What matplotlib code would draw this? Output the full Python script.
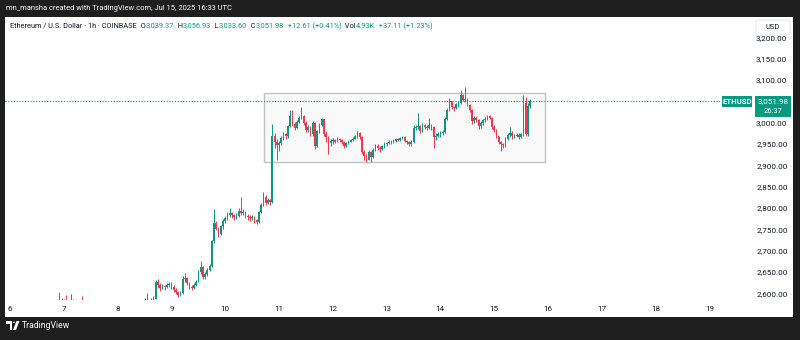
import numpy as np
import pandas as pd
import matplotlib.pyplot as plt
from matplotlib.patches import Rectangle, FancyBboxPatch, Polygon, Circle

plt.rcParams['font.family'] = ['Roboto', 'DejaVu Sans']

# --------------------------------------------------------------------------
# ETHUSD 1h candles (Coinbase), Jul 6 18:00 UTC -> Jul 15 16:00 UTC
# open of each candle = previous close
# --------------------------------------------------------------------------
start = "2025-07-06 18:00"
first_open = 2558

close = [
    2562, 2568, 2571, 2578, 2572, 2576,                                   # Jul 6
    2580, 2574, 2577, 2583, 2578, 2572, 2566, 2570, 2562, 2555, 2550, 2547,
    2552, 2545, 2540, 2546, 2550, 2544, 2536, 2530, 2534, 2526, 2520, 2528,  # Jul 7
    2534, 2540, 2545, 2550, 2548, 2553, 2558, 2555, 2560, 2564, 2568, 2566,
    2572, 2580, 2576, 2582, 2588, 2626, 2620, 2612, 2617, 2614, 2619, 2622,  # Jul 8
    2616, 2609, 2603, 2596, 2600, 2633, 2636, 2624, 2616, 2613, 2620, 2628,
    2650, 2662, 2638, 2645, 2656, 2665, 2722, 2766, 2752, 2740, 2757, 2770,  # Jul 9
    2776, 2784, 2788, 2783, 2779, 2782, 2793, 2789, 2792, 2781, 2779, 2776,
    2780, 2772, 2768, 2790, 2808, 2826, 2813, 2818, 2815, 2970, 2956, 2948,  # Jul 10
    2952, 2964, 2974, 2968, 2992, 3016, 2998, 2989, 3003, 3012, 3016, 3000,
    2982, 2991, 2973, 3000, 2946, 2980, 2996, 3008, 2973, 2966, 2952, 2957,  # Jul 11
    2960, 2956, 2962, 2959, 2955, 2946, 2952, 2956, 2960, 2963, 2968, 2976,
    2966, 2932, 2922, 2914, 2932, 2920, 2936, 2946, 2941, 2938, 2945, 2950,  # Jul 12
    2952, 2956, 2954, 2958, 2961, 2960, 2964, 2966, 2958, 2954, 2950, 2956,
    2987, 2991, 2993, 2980, 2994, 2991, 2989, 2994, 2990, 2966, 2970, 2974,  # Jul 13
    2976, 2978, 3010, 3030, 3050, 3038, 3034, 3043, 3047, 3066, 3054, 3056,
    3042, 3031, 3004, 3012, 3006, 2992, 3000, 3006, 3010, 3015, 3012, 2990,  # Jul 14
    2984, 2968, 2955, 2950, 2948, 2962, 2972, 2976, 2968, 2970, 2972, 2967,
    2973, 3047, 2973, 3039.37, 3051.98,                                    # Jul 15
]

high = [
    2570, 2575, 2580, 2586, 2603, 2590,
    2588, 2596, 2583, 2598, 2586, 2580, 2575, 2578, 2594, 2566, 2558, 2554,
    2558, 2553, 2548, 2552, 2556, 2552, 2545, 2540, 2540, 2536, 2530, 2534,
    2540, 2546, 2551, 2555, 2554, 2558, 2563, 2561, 2565, 2569, 2573, 2572,
    2590, 2602, 2584, 2590, 2595, 2631, 2634, 2624, 2622, 2621, 2624, 2627,
    2626, 2620, 2612, 2606, 2605, 2640, 2649, 2638, 2628, 2620, 2624, 2632,
    2654, 2675, 2664, 2650, 2660, 2670, 2726, 2797, 2770, 2756, 2760, 2775,
    2781, 2792, 2801, 2790, 2786, 2788, 2800, 2825, 2798, 2794, 2786, 2783,
    2785, 2782, 2775, 2794, 2812, 2837, 2830, 2824, 2822, 2998, 2975, 2962,
    2958, 2968, 2978, 2977, 2996, 3029, 3029, 3002, 3006, 3016, 3038, 3018,
    3004, 2995, 2993, 3004, 3002, 2984, 3000, 3012, 3010, 2980, 2970, 2962,
    2964, 2962, 2966, 2965, 2962, 2958, 2955, 2960, 2963, 2966, 2971, 2980,
    2978, 2968, 2936, 2928, 2936, 2934, 2940, 2950, 2950, 2945, 2948, 2954,
    2955, 2960, 2959, 2962, 2964, 2965, 2967, 2970, 2968, 2960, 2957, 2960,
    2996, 2995, 3022, 2995, 2999, 2998, 2996, 3012, 2997, 2992, 2976, 2978,
    2980, 2982, 3014, 3034, 3057, 3052, 3040, 3046, 3052, 3078, 3068, 3083,
    3058, 3045, 3033, 3016, 3015, 3008, 3004, 3010, 3014, 3019, 3018, 3014,
    2994, 2986, 2970, 2958, 2952, 2966, 2975, 2991, 2980, 2974, 2976, 2975,
    2977, 3066, 3060, 3046, 3056.93,
]

low = [
    2555, 2560, 2563, 2568, 2566, 2568,
    2570, 2568, 2569, 2574, 2570, 2564, 2560, 2562, 2558, 2550, 2544, 2541,
    2544, 2539, 2533, 2538, 2543, 2538, 2528, 2522, 2526, 2518, 2512, 2518,
    2524, 2532, 2538, 2543, 2541, 2546, 2550, 2549, 2553, 2558, 2561, 2560,
    2564, 2570, 2570, 2574, 2580, 2586, 2612, 2606, 2610, 2608, 2612, 2614,
    2610, 2604, 2598, 2592, 2593, 2598, 2628, 2620, 2610, 2608, 2611, 2618,
    2626, 2646, 2634, 2635, 2642, 2652, 2662, 2718, 2748, 2733, 2736, 2752,
    2766, 2772, 2780, 2777, 2772, 2775, 2780, 2784, 2785, 2776, 2772, 2770,
    2773, 2765, 2762, 2766, 2788, 2805, 2808, 2810, 2808, 2812, 2942, 2914,
    2934, 2948, 2960, 2962, 2964, 2990, 2993, 2983, 2987, 3000, 3008, 2996,
    2978, 2978, 2968, 2970, 2938, 2944, 2976, 2992, 2968, 2956, 2926, 2946,
    2950, 2952, 2954, 2955, 2950, 2942, 2944, 2950, 2954, 2957, 2961, 2965,
    2962, 2928, 2912, 2907, 2912, 2907, 2918, 2934, 2937, 2932, 2936, 2942,
    2946, 2950, 2950, 2952, 2955, 2957, 2958, 2961, 2955, 2950, 2946, 2945,
    2952, 2983, 2985, 2976, 2978, 2986, 2984, 2986, 2984, 2942, 2960, 2966,
    2966, 2972, 2976, 3006, 3028, 3032, 3028, 3032, 3038, 3045, 3050, 3048,
    3040, 3026, 2998, 3000, 3002, 2986, 2988, 2996, 3002, 3006, 3008, 2986,
    2978, 2964, 2950, 2933, 2940, 2944, 2960, 2966, 2962, 2964, 2966, 2962,
    2964, 2968, 2968, 2970, 3033.60,
]

assert len(close) == len(high) == len(low)

# consolidation range drawn on the chart (day-of-July, price)
range_start, range_end = 10.72, 15.94
range_low, range_high = 2909, 3069

last_price = 3051.98
countdown = "26:37"
day_ticks = list(range(6, 20))
price_ticks = [2600, 2650, 2700, 2750, 2800, 2850, 2900, 2950, 3000,
               3100, 3150, 3200]

header = "mn_mansha created with TradingView.com, Jul 15, 2025 16:33 UTC"
legend_pieces = [
    ("Ethereum / U.S. Dollar · 1h · COINBASE", "dark"),
    ("  O", "dark"), ("3,039.37", "green"),
    ("  H", "dark"), ("3,056.93", "green"),
    ("  L", "dark"), ("3,033.60", "green"),
    ("  C", "dark"), ("3,051.98", "green"),
    ("  +12.61 (+0.41%)", "green"),
    ("  Vol", "dark"), ("4.93K", "green"),
    ("  +37.11 (+1.23%)", "green"),
]

UP = "#089981"
DOWN = "#f23645"
DARK = "#131722"
FRAME = "#1e1e1e"

# --------------------------------------------------------------------------
# figure layout (pixel helpers, 800 x 340)
# --------------------------------------------------------------------------
W, H = 800, 340


def fx(px):
    return px / W


def fy(py):
    return 1 - py / H


fig = plt.figure(figsize=(8, 3.4), dpi=100, facecolor=FRAME)
renderer = fig.canvas.get_renderer()


def text_width(s, size):
    tmp = fig.text(0, 0, s, fontsize=size)
    w = tmp.get_window_extent(renderer=renderer).width
    tmp.remove()
    return w


def size_for_width(strings, target_px, base=5.0):
    total = sum(text_width(s, base) for s in strings)
    return base * target_px / total


fig.patches.append(Rectangle((fx(5), fy(317)), 788 / W, 300 / H,
                             transform=fig.transFigure, facecolor="white",
                             edgecolor="none", zorder=-5))

ax = fig.add_axes([fx(5), fy(300), 715 / W, 283 / H])
ax.set_facecolor("none")

# candles
t = pd.date_range(start, periods=len(close), freq="h")
x = t.day.values + t.hour.values / 24
c = np.array(close, dtype=float)
o = np.array([first_open] + close[:-1], dtype=float)
col = np.where(c >= o, UP, DOWN)

ax.vlines(x, low, high, colors=col, lw=0.7, zorder=2)
ax.bar(x, np.maximum(np.abs(c - o), 1.0), bottom=np.minimum(o, c),
       width=0.7 / 24, color=col, lw=0, zorder=3)

# range box
ax.add_patch(Rectangle((range_start, range_low), range_end - range_start,
                       range_high - range_low, facecolor="#f9f9f9",
                       edgecolor="#c2c2c2", lw=1.0, zorder=1))

# last price line
ax.axhline(last_price, color=UP, lw=0.8, ls=(0, (1, 1.5)), zorder=4)

ax.set_xlim(5.907, 19.197)
ax.set_ylim(2584.7, 3248)
ax.set_xticks(day_ticks, [str(d) for d in day_ticks])
ax.yaxis.tick_right()
ax.set_yticks(price_ticks, [f"{p:,.2f}" for p in price_ticks])
ax.tick_params(axis="y", length=0, pad=26.0, labelsize=5.9, labelcolor=DARK)
ax.tick_params(axis="x", length=0, pad=4.3, labelsize=5.9, labelcolor=DARK)
for s in ax.spines.values():
    s.set_visible(False)

# --------------------------------------------------------------------------
# header, legend row, price tags
# --------------------------------------------------------------------------
hsize = size_for_width([header], 226)
fig.text(fx(6), fy(9), header, color="white", fontsize=hsize, va="center")

lsize = size_for_width([p[0] for p in legend_pieces], 423)
xpos = fx(10)
for txt, kind in legend_pieces:
    tt = fig.text(xpos, fy(26), txt, color=UP if kind == "green" else DARK,
                  fontsize=lsize, va="center")
    xpos += tt.get_window_extent(renderer=renderer).width / fig.bbox.width

# USD box
fig.patches.append(FancyBboxPatch((fx(756), fy(35)), 34 / W, 15 / H,
                                  boxstyle="round,pad=0,rounding_size=0.004",
                                  transform=fig.transFigure, facecolor="white",
                                  edgecolor="#e0e3eb", lw=0.6, zorder=5))
fig.text(fx(773), fy(27.5), "USD", color=DARK, fontsize=5.4, ha="center",
         va="center", zorder=6)

# tags at the last price
py_line = ax.transData.transform((10, last_price))[1]
y_line = py_line / fig.bbox.height
fig.patches.append(Rectangle((fx(722), y_line - 6 / H), 30 / W, 11 / H,
                             transform=fig.transFigure, facecolor=UP,
                             edgecolor="none", zorder=5))
fig.text(fx(737), y_line - 0.5 / H, "ETHUSD", color="white", fontsize=5.6,
         fontweight="bold", ha="center", va="center", zorder=6)
fig.patches.append(Rectangle((fx(755), y_line - 16 / H), 36 / W, 20.5 / H,
                             transform=fig.transFigure, facecolor=UP,
                             edgecolor="none", zorder=5))
fig.text(fx(773), y_line - 0.5 / H, f"{last_price:,.2f}", color="white",
         fontsize=5.9, ha="center", va="center", zorder=6)
fig.text(fx(773), y_line - 10.5 / H, countdown, color="white",
         fontsize=5.4, ha="center", va="center", zorder=6)

# TradingView logo (bottom bar)
fig.patches.append(Polygon([[fx(6), fy(321)], [fx(12), fy(321)], [fx(12), fy(330)],
                            [fx(10), fy(330)], [fx(10), fy(323.5)], [fx(6), fy(323.5)]],
                           closed=True, transform=fig.transFigure,
                           facecolor="white", edgecolor="none"))
fig.patches.append(Circle((fx(14), fy(322.3)), 1.3 / W, transform=fig.transFigure,
                          facecolor="white", edgecolor="none"))
fig.patches.append(Polygon([[fx(16.5), fy(321)], [fx(19.5), fy(321)], [fx(16), fy(330)],
                            [fx(13), fy(330)]],
                           closed=True, transform=fig.transFigure,
                           facecolor="white", edgecolor="none"))
fig.text(fx(22), fy(326), "TradingView", color="white", fontsize=6.2,
         va="center")

fig.savefig("out.png", dpi=100, facecolor=FRAME)
